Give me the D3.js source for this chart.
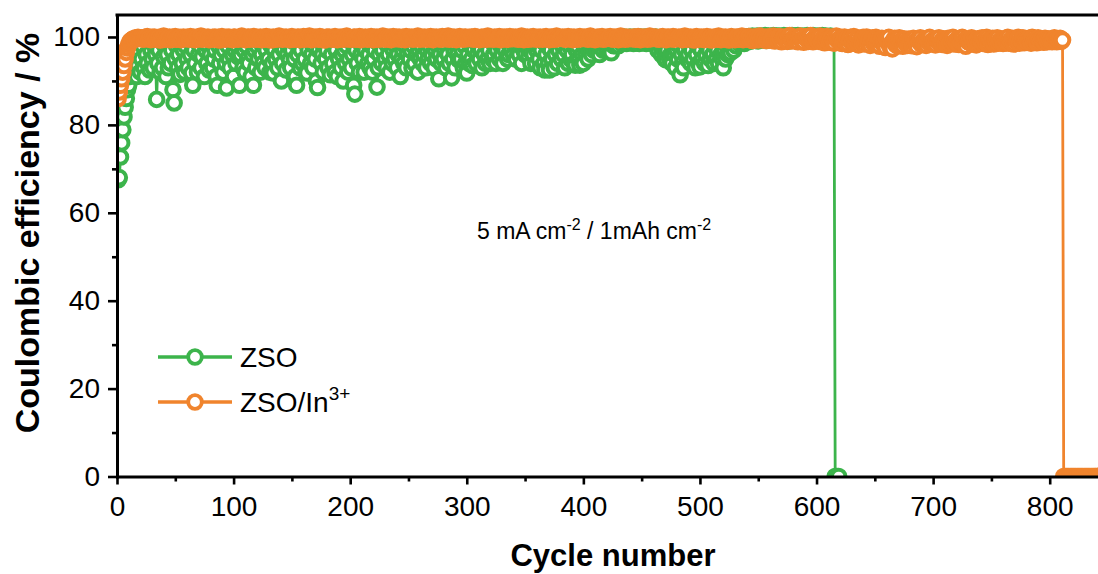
<!DOCTYPE html>
<html>
<head>
<meta charset="utf-8">
<script src="https://cdn.jsdelivr.net/npm/d3@7"></script>
<style>
  body { margin: 0; background: #fff; }
  svg { display: block; }
  text { font-family: Arial, "Liberation Sans", sans-serif; fill: #000; }
</style>
</head>
<body>
<svg id="chart" width="1098" height="574"></svg>
<script>
// Coulombic efficiency (%) per cycle; index 0 is cycle 1.
const seriesNames = ["ZSO", "ZSO/In"];
const seriesColors = ["#3cb44b", "#f0842d"];
const xTickValues = [0, 100, 200, 300, 400, 500, 600, 700, 800];
const xMinorTicks = [50, 150, 250, 350, 450, 550, 650, 750];
const yTickValues = [0, 20, 40, 60, 80, 100];
const yMinorTicks = [10, 30, 50, 70, 90];

const zsoCE = [
67.5,68,72.7,75.9,78.9,81.8,84,86,88,89,
91,93,92,95,94,96,91,93.5,97,92,
95,98,93,91,96,94,99,92.5,97,95,
93,98,96,85.8,94,97,92,99,93,95.5,
98,91,96,93,99,94,97,88,85,95,
98,93,96,91.5,99,94,97,92,98,95,
93,99,96,91.8,89,97,94,99,92,96,
98,93,95.5,99,91,97,94,98,92.5,96,
99,93,95,97,91,89,98,94,96,99,
92,97,94,88.4,98,95,93,99,96,91,
97,94,98,95.5,89,96,99,93,97,92,
98,95,94,99,91,96,89,97,93,98,
95,99,92,96,94,98,93,97,99,95,
92,98,94,91.8,97,95,99,93,96,98,
90,94,97,99,92.5,96,98,94.8,93,97,
99,95,91,89,96,98,93,97,94,99,
95,92,91.8,97,99,94,96,93,98,95,
90,88.5,97,99,94,96,92,98,95,97,
93,99,91.4,96,94,98,92,97,91,95,
99,93,96,90,97,94,98,92,95,99,
93,96,89,87,97,94,99,92,96,98,
95,92,97,99,94,96,93,98,92,95,
97,99,88.6,93,96,98,94,97,99,95,
93,98,96,92,99,94,97,95,98,93,
96,99,91,95,97,94,98,93,96,99,
95,97,93,98,94,99,96,92,97,95,
98,94,96,99,93,97,95,98,94,96,
99,93,97,95,98,90.5,96,94,99,95,
97,93,98,96,94,99,90.7,95,97,93,
98,96,94.8,99,95,97,93,98,94,91.8,
96,94,98,95,93.5,97,99,94,96,98,
95,97,93,99,96,94,98,95,97,94,
99,95,96,98,94,97,99,95,98,96,
94,98,97,99,95,96,98,97,99,96,
98,95,99,97,96,98,94,99,97,96,
98,99,95.5,97,94,98,96,99,94,97,
98,95,93,97,99,94,92.5,96,98,94,
92.5,97,95,99,93,96,98,94,97,99,
95,98,96,93,99,97,94,98,95,96,
99,94,93.6,97,98,95,93.6,99,96,94,
98,96,99,95,97,98,96,99,97,98,
99,97,98,96,99,98,97,99,98,97,
99,98,97,96.4,99,98,99,98,99,98,
99,99.5,98.5,99,100,99,98.5,99.5,99,100,
99,99.5,98.5,100,99,99.5,99,98.5,100,99,
99.5,99,100,98.5,99,99.5,100,99,98.5,99.5,
99,100,98,97,99,98,96,99,97,95,
94.8,97,99,95,96,94,98,96,93,97,
95,98,91.4,96,94,93,97,99,95,96,
98,94,97,95,99,93,96,98,94,93.2,
97,95,99,94,96,98,93.5,97,95,99,
96,94,98,95,97,94,99,96,95,93,
97,95,98,96,99,96.4,98,99,97,99,
98,99,99.5,98.5,100,99,99.5,98.5,99,100,
99.5,100.1,99,99.8,100.2,99.3,100,99.6,100.2,99.1,
99.8,100.2,99.4,100,99.7,100.3,99.2,99.9,100.2,99.5,
100.1,99.4,100.3,99.8,99.2,100.2,99.6,100.2,99.9,99.3,
100,100.3,99.5,99.8,100.2,99.1,100.1,99.7,100.3,99.4,
99.9,100.2,99.6,100.3,99.3,100,99.8,100.2,99.5,100.1,
99.7,100.3,99.2,99.9,100.2,99.6,100.3,99.4,100,99.8,
100.2,99.5,100.1,99.7,100.3,99.3,99.9,100.2,99.6,100,
99.8,100.2,99.5,99.9,99.4,
0,0,0,0
];

const zsoInCE = [
86,87.5,89,90.5,92,93.5,95,96.5,97.5,98.3,
98.9,99.2,99.4,99.6,99.5,99.8,99.6,99.9,99.7,99.8,
99.6,99.8,99.5,99.9,99.7,100.1,99.6,99.8,99.4,99.9,99.7,100,99.5,99.8,99.6,99.9,99.3,99.8,99.7,100.2,
99.5,99.9,99.6,99.8,100,99.4,99.7,99.9,99.6,100.1,99.5,99.8,99.7,99.9,99.4,99.8,100,99.6,99.7,99.9,
99.8,99.5,100.1,99.7,99.6,99.9,99.4,99.8,100,99.6,99.7,100.2,99.5,99.8,99.9,99.6,99.7,100,99.4,99.8,
99.7,99.9,99.5,100,99.8,99.6,99.9,99.3,99.7,100.1,99.6,99.8,99.5,99.9,99.7,100,99.6,99.8,99.4,99.9,
100,99.6,99.8,99.5,99.9,99.7,100.2,99.6,99.8,99.4,99.7,99.9,100,99.5,99.8,99.6,100.1,99.7,99.5,99.9,
99.6,99.8,100,99.4,99.7,99.9,99.5,100.1,99.8,99.6,99.9,99.3,99.7,100,99.8,99.5,99.9,99.6,100.2,99.7,
99.8,99.5,99.9,99.7,100,99.6,99.8,99.4,99.9,100.1,99.7,99.5,99.8,99.6,100,99.9,99.4,99.7,99.8,100.1,
99.5,99.9,99.7,99.6,100.2,99.8,99.4,99.9,99.6,100,99.7,99.8,99.5,100.1,99.6,99.9,99.7,99.3,99.8,100,
99.7,100,99.6,99.8,99.5,99.9,100.1,99.7,99.4,99.8,99.9,99.6,100,99.5,99.8,99.7,100.2,99.6,99.9,99.5,
99.8,99.6,99.9,100,99.5,99.7,99.8,100.1,99.4,99.9,99.6,99.8,100,99.7,99.5,99.9,99.6,100.1,99.8,99.4,
99.9,99.7,100,99.5,99.8,99.6,99.9,100.2,99.7,99.5,99.8,100,99.6,99.9,99.4,99.7,100.1,99.8,99.6,99.9,
99.6,100,99.8,99.5,99.9,99.7,99.4,100.1,99.8,99.6,99.9,99.7,100,99.5,99.8,99.9,99.6,100.2,99.7,99.5,
99.8,99.9,99.6,100,99.7,99.5,99.9,99.8,100.1,99.6,99.4,99.9,99.7,100,99.8,99.6,99.9,99.5,100.1,99.7,
99.9,99.6,99.8,100.2,99.5,99.7,99.9,99.6,100,99.8,99.4,99.7,99.9,100.1,99.6,99.8,99.5,99.9,100,99.7,
99.6,99.9,99.7,100,99.8,99.5,100.1,99.6,99.9,99.7,99.4,99.8,100,99.6,99.9,99.7,99.5,100.2,99.8,99.6,
99.9,99.7,99.5,100,99.8,99.6,99.9,100.1,99.4,99.7,99.8,100,99.6,99.9,99.5,99.8,100.1,99.7,99.6,99.9,
99.7,100,99.8,99.5,99.9,99.6,100.2,99.8,99.4,99.9,99.7,100,99.5,99.8,99.9,99.6,100.1,99.7,99.8,99.5,
99.9,99.6,100,99.8,99.5,99.9,99.7,100.1,99.6,99.8,99.4,99.9,100,99.7,99.5,99.8,100.2,99.6,99.9,99.7,
99.8,100,99.6,99.9,99.5,99.7,100.1,99.8,99.6,99.9,99.4,100,99.7,99.8,99.5,99.9,100.1,99.6,99.8,99.7,
100,99.7,99.9,99.5,99.8,100.2,99.6,99.9,99.7,99.4,99.8,100,99.6,99.9,99.7,100.1,99.5,99.8,99.6,99.9,
99.7,99.9,100.1,99.6,99.8,99.5,100,99.7,99.9,99.4,99.8,100.2,99.6,99.9,99.7,99.5,100,99.8,99.6,99.9,
99.8,99.6,100,99.9,99.5,99.7,100.1,99.8,99.4,99.9,99.6,100,99.8,99.7,99.5,99.9,100.2,99.6,99.8,99.7,
99.9,100,99.6,99.8,99.5,99.9,99.7,100.1,99.6,99.8,99.4,99.9,100,99.7,99.6,99.8,100.1,99.5,99.9,99.7,
99.8,100,99.6,99.9,99.4,99.7,100.2,99.8,99.5,99.9,99.7,100,99.6,99.8,99.3,99.9,100.1,99.7,99.5,99.8,
100,99.6,99.9,99.4,99.8,100.1,99.5,99.7,99.9,99.3,99.8,100,99.6,99.9,99.5,100.2,99.7,99.4,99.8,99.9,
99.6,100,99.5,99.8,99.3,99.9,100.1,99.6,99.7,99.4,99.9,100,99.5,99.8,99.6,100.2,99.4,99.7,99.9,99.5,
99.8,100.1,99.4,99.7,99.2,99.9,100,99.5,99.8,99.3,100.2,99.6,99.9,99.4,99.7,100,99.2,99.8,99.5,100.1,
99.3,99.7,100.2,99.1,99.6,99.9,99.2,100.1,99.5,98.9,99.8,100,99.3,99.6,99.0,99.9,100.3,99.4,99.1,99.7,
100,99.2,99.6,98.9,99.8,100.2,99.3,99.5,98.8,99.9,100.1,99.4,99.0,99.7,100.3,99.2,98.9,99.6,100,99.4,
99.1,99.8,100.2,98.9,99.5,99.9,98.7,99.3,100.1,99.6,98.8,99.4,100,99.1,98.6,99.7,100.2,99.3,98.9,99.5,
99.9,98.5,99.2,100,98.8,99.6,98.3,99.4,99.9,98.7,99.1,100.1,98.5,99.3,99.8,98.2,99,99.6,98.6,99.9,
98.4,99.2,100,98.7,99.5,98.1,99.3,99.8,98.5,99.1,99.9,98.3,99.4,97.9,99,99.7,98.4,99.2,97.6,99.5,
98.8,99.9,97.8,98.6,97.3,99.1,99.7,98.2,99.4,98,99.8,98.5,99.2,97.9,99.6,98.7,99,98.1,99.5,98.4,
99.3,98,99.7,98.6,99.1,97.8,99.4,98.9,99.8,98.3,99,98.7,99.6,98.1,99.2,98.8,99.9,98.4,99.1,98.6,
99.5,98.2,99.3,98.9,99.8,98.5,99,98.3,99.6,98.8,99.2,98.1,99.7,98.6,99.4,98.9,99.9,98.4,99.1,98.7,
99.6,98.3,99.2,98.8,99.9,98.5,99.3,97.9,99.5,98.9,99.1,98.6,99.8,98.4,99.3,99,98.2,99.6,98.7,99.4,
98.9,99.8,98.5,99.2,98.7,99.9,98.3,99.4,99,98.6,99.7,98.4,99.3,98.9,99.8,98.6,99.1,98.8,99.6,98.5,
99.4,99,98.7,99.9,98.6,99.2,98.9,99.7,98.4,99.5,99.1,98.8,99.9,98.6,99.3,98.9,99.8,98.7,99.4,99.1,
98.8,99.7,99.2,98.6,99.9,98.9,99.4,99.1,98.7,99.8,99.3,98.9,99.6,99,98.8,99.7,99.2,98.9,99.5,99.1,
99.6,98.9,99.4,99.8,99.1,98.9,99.5,99.2,99.7,99,99.3,
0,0,0,0,0,0,0,0,0,0,0,0,0,0,0,0,0,0,0,0,
0,0,0,0,0,0,0,0,0,0,0,0,0,0,0,0,0,0,0
];

const svg = d3.select("#chart");

const x = d3.scaleLinear().domain([0, 850]).range([117, 1108]);
const y = d3.scaleLinear().domain([0, 105]).range([476.5, 15]);

// plot area clip: markers on the axes are cut at the frame
svg.append("defs").append("clipPath").attr("id", "plotClip")
  .append("rect")
  .attr("x", x(0)).attr("y", y(105))
  .attr("width", x(850) - x(0)).attr("height", y(0) - y(105));

const plotG = svg.append("g").attr("clip-path", "url(#plotClip)");

const series = [
  { name: seriesNames[0], values: zsoCE, color: seriesColors[0] },
  { name: seriesNames[1], values: zsoInCE, color: seriesColors[1] }
];

const line = d3.line().x(d => x(d.cycle)).y(d => y(d.ce));

series.forEach(s => {
  const pts = s.values.map((v, i) => ({ cycle: i + 1, ce: v }));
  plotG.append("path").datum(pts)
    .attr("fill", "none").attr("stroke", s.color)
    .attr("stroke-width", 2.8).attr("d", line);
  plotG.append("g").selectAll("circle").data(pts).join("circle")
    .attr("cx", d => x(d.cycle)).attr("cy", d => y(d.ce))
    .attr("r", 6.8).attr("fill", "#fff")
    .attr("stroke", s.color).attr("stroke-width", 4);
});

// axes
function styleAxis(g) {
  g.attr("font-family", null).attr("font-size", null);
  g.select(".domain").attr("stroke", "#000").attr("stroke-width", 3).attr("stroke-linecap", "square");
  g.selectAll(".tick line").attr("stroke", "#000").attr("stroke-width", 2.6);
  g.selectAll(".tick text").style("font-size", "28px").attr("fill", "#000");
}

const gxMinor = svg.append("g").attr("transform", `translate(0,${y(0)})`)
  .call(d3.axisBottom(x).tickValues(xMinorTicks).tickSize(5).tickFormat(""));
gxMinor.select(".domain").remove();
gxMinor.selectAll(".tick line").attr("stroke", "#000").attr("stroke-width", 2.6);

const gyMinor = svg.append("g").attr("transform", `translate(${x(0)},0)`)
  .call(d3.axisLeft(y).tickValues(yMinorTicks).tickSize(5).tickFormat(""));
gyMinor.select(".domain").remove();
gyMinor.selectAll(".tick line").attr("stroke", "#000").attr("stroke-width", 2.6);

const gx = svg.append("g").attr("transform", `translate(0,${y(0)})`)
  .call(d3.axisBottom(x).tickValues(xTickValues).tickSize(8).tickSizeOuter(0).tickPadding(12));
styleAxis(gx);

const gy = svg.append("g").attr("transform", `translate(${x(0)},0)`)
  .call(d3.axisLeft(y).tickValues(yTickValues).tickSize(9).tickSizeOuter(0).tickPadding(8));
styleAxis(gy);

// top frame
svg.append("line")
  .attr("x1", x(0)).attr("x2", x(850)).attr("y1", y(105)).attr("y2", y(105))
  .attr("stroke", "#000").attr("stroke-width", 3).attr("stroke-linecap", "square");

// axis titles
svg.append("text")
  .attr("x", 613).attr("y", 566).attr("text-anchor", "middle")
  .style("font-size", "31px").style("font-weight", "bold")
  .text("Cycle number");

svg.append("text")
  .attr("transform", "translate(39,233) rotate(-90)").attr("text-anchor", "middle")
  .style("font-size", "34px").style("font-weight", "bold")
  .text("Coulombic efficiency / %");

// test condition
const cond = svg.append("text").attr("x", 477).attr("y", 239).style("font-size", "23px");
cond.append("tspan").text("5 mA cm");
cond.append("tspan").attr("dy", -9).style("font-size", "16px").text("-2");
cond.append("tspan").attr("dy", 9).text(" / 1mAh cm");
cond.append("tspan").attr("dy", -9).style("font-size", "16px").text("-2");

// legend
const legendRows = [357, 402];
series.forEach((s, i) => {
  const ly = legendRows[i];
  svg.append("line").attr("x1", 158).attr("x2", 232).attr("y1", ly).attr("y2", ly)
    .attr("stroke", s.color).attr("stroke-width", 3.5);
  svg.append("circle").attr("cx", 195).attr("cy", ly).attr("r", 6.8)
    .attr("fill", "#fff").attr("stroke", s.color).attr("stroke-width", 3.8);
  const t = svg.append("text").attr("x", 240).attr("y", ly + 10).style("font-size", "28px");
  t.append("tspan").text(s.name);
  if (i === 1) {
    t.append("tspan").attr("dy", -12).style("font-size", "19px").text("3+");
  }
});
</script>
</body>
</html>
